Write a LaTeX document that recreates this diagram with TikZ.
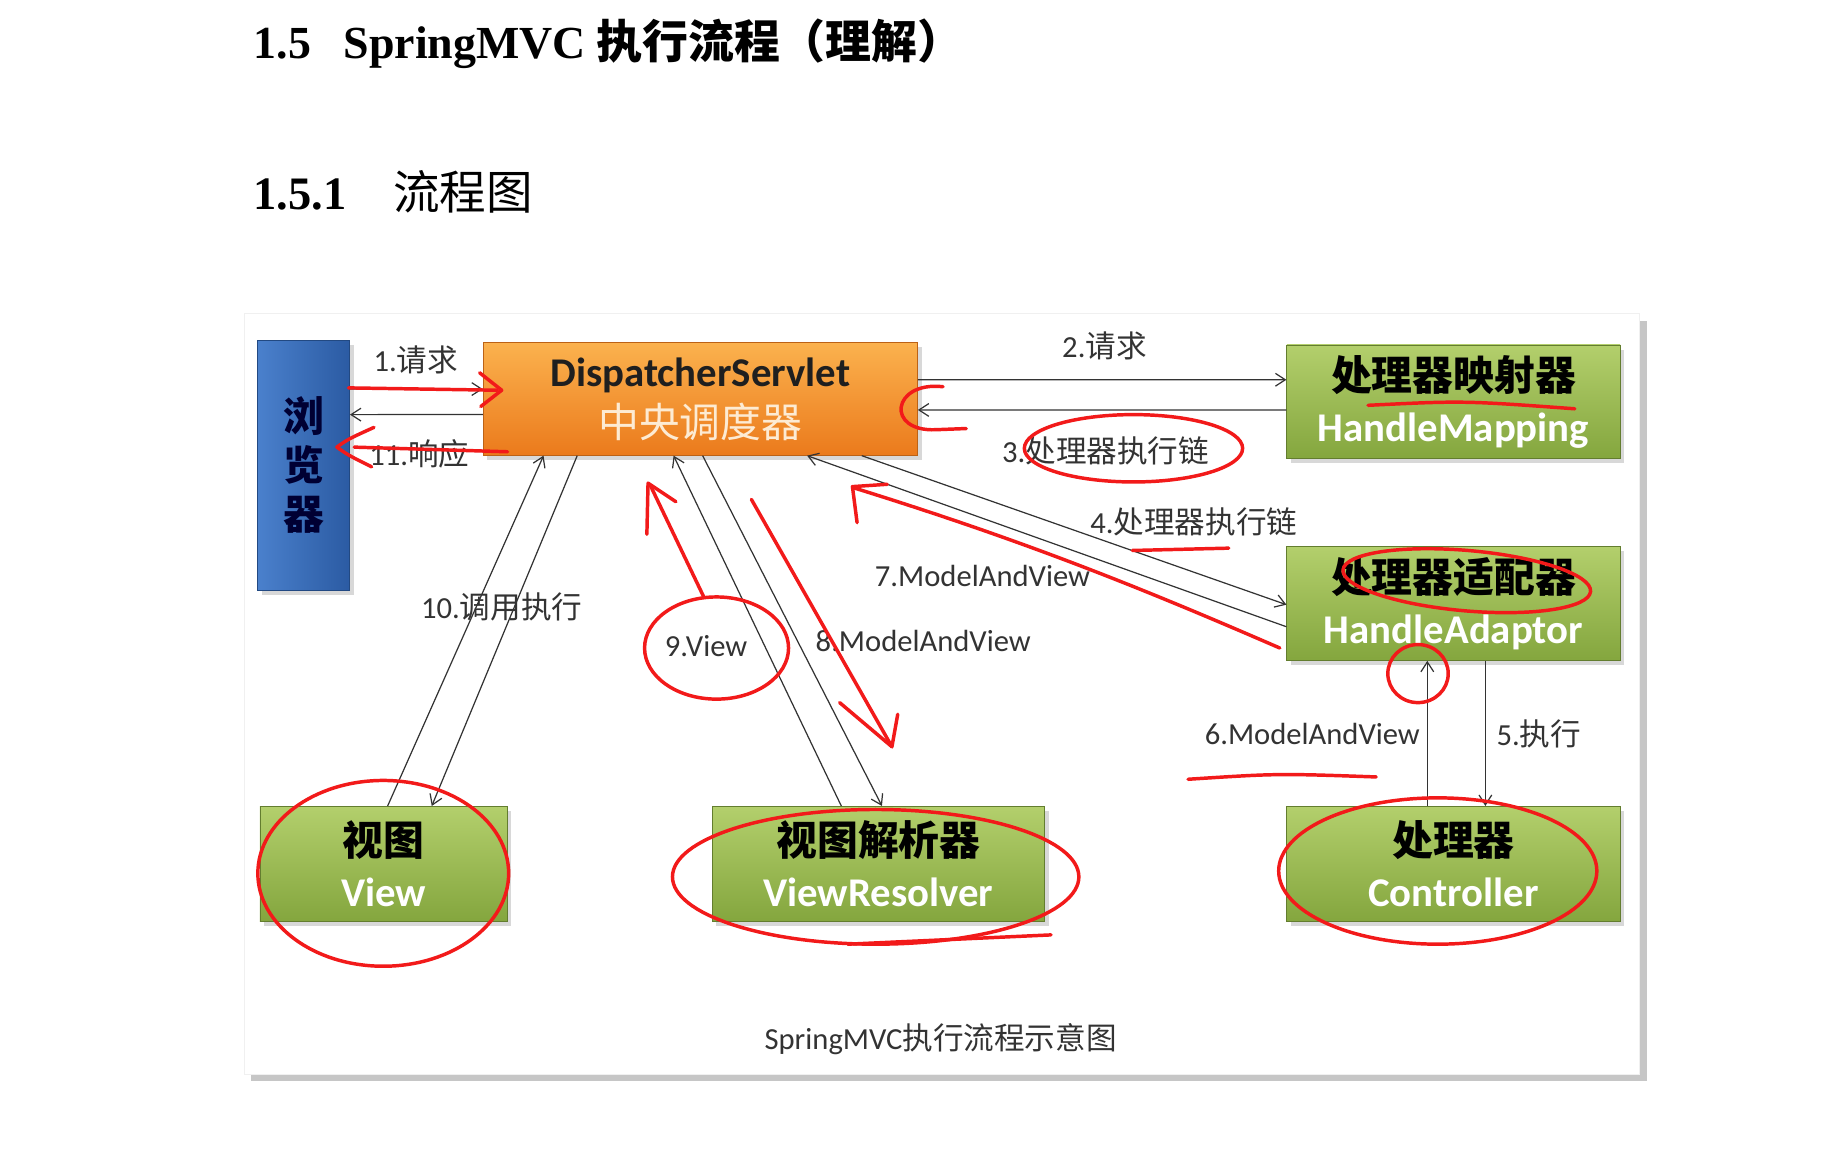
\documentclass[tikz,border=0pt]{standalone}
\usepackage{fontspec}
\setmainfont{Carlito}
\newfontfamily\zh{Noto Sans CJK SC}
\newfontfamily\headserif{Liberation Serif}
\usepackage{tikz}
\usetikzlibrary{arrows.meta, positioning, calc, shadows}
\definecolor{browserblue}{HTML}{4A80CC}
\definecolor{browserdeep}{HTML}{2B5BA3}
\definecolor{servlettop}{HTML}{FBB24E}
\definecolor{servletbot}{HTML}{EB7A1C}
\definecolor{servletlight}{HTML}{FDEBD3}
\definecolor{leaftop}{HTML}{B3CF6C}
\definecolor{leafbot}{HTML}{84A63E}
\definecolor{flowgray}{HTML}{333333}
\definecolor{penred}{HTML}{F21A1A}
\tikzset{
    box/.style={rectangle, minimum height=1.96cm, align=center, font=\fontsize{20}{25}\selectfont\bfseries, drop shadow={shadow xshift=.07cm, shadow yshift=-.08cm, opacity=.3}},
    greenbox/.style={box, draw=leafbot!75!black, top color=leaftop, bottom color=leafbot, text=black},
    orangebox/.style={box, draw=servletbot!80!black, top color=servlettop, bottom color=servletbot, text=black!88},
    bluebox/.style={box, draw=browserdeep!80!black, left color=browserblue, right color=browserdeep, text=black!80!blue},
    sheet/.style={rectangle, fill=white, draw=black!6, drop shadow={shadow xshift=.12cm, shadow yshift=-.12cm, opacity=.45}},
    flowlabel/.style={inner sep=0pt, font=\fontsize{15}{18}\selectfont, text=flowgray},
    arrow/.style={-{Straight Barb[length=1.7mm, width=2.2mm]}, line width=.6pt, draw=flowgray},
    redpen/.style={draw=penred, line width=1.7pt, line cap=round, line join=round}
}
\newcommand{\cn}[1]{{\zh #1}}

\begin{document}
\begin{tikzpicture}[x=0.02cm, y=-0.02cm]
\useasboundingbox (0,0) rectangle (1568,1000);
% headings
\node[anchor=west, inner sep=0pt] (head) at (218,38) {\fontsize{22.5}{26}\selectfont{\headserif\bfseries 1.5\hspace{16pt}SpringMVC} \cn{\bfseries 执行流程（理解）}};
\node[anchor=west, inner sep=0pt] (subhead) at (218,165) {\fontsize{22.8}{26}\selectfont{\headserif\bfseries 1.5.1}\hspace{1em}\cn{流程图}};
% the figure sheet
\node[sheet, minimum width=24.04cm, minimum height=13.1cm] (paper) at (811,597.5) {};

\node[bluebox, minimum width=1.58cm, minimum height=4.3cm, font=\fontsize{20}{24}\selectfont\bfseries\zh] (browser) at (261.5,400.5) {浏\\览\\器};
\node[orangebox, minimum width=7.48cm, minimum height=1.94cm] (disp) at (603,343.5) {DispatcherServlet\\\textcolor{servletlight}{\cn{\mdseries 中央调度器}}};
\node[greenbox, minimum width=5.74cm] (mapping) at (1251.5,346) {\cn{处理器映射器}\\\textcolor{white}{HandleMapping}};
\node[greenbox, minimum width=5.74cm, below=1.5cm of mapping] (adaptor) {\cn{处理器适配器}\\\textcolor{white}{HandleAdaptor}};
\node[greenbox, minimum width=5.74cm, minimum height=1.98cm, below=2.5cm of adaptor] (controller) {\cn{处理器}\\\textcolor{white}{Controller}};
\node[greenbox, minimum width=5.72cm, minimum height=1.98cm, left=4.16cm of controller] (resolver) {\cn{视图解析器}\\\textcolor{white}{ViewResolver}};
\node[greenbox, minimum width=4.26cm, minimum height=1.98cm, left=3.52cm of resolver] (view) {\cn{视图}\\\textcolor{white}{View}};

% flow
\draw[arrow] ([yshift=1.31cm]browser.east) -- ([yshift=.17cm]disp.west);
\draw[arrow] ([yshift=-.27cm]disp.west) -- ([yshift=.87cm]browser.east);
\draw[arrow] ([yshift=.33cm]disp.east) -- ([yshift=.38cm]mapping.west);
\draw[arrow] ([yshift=-.14cm]mapping.west) -- ([yshift=-.19cm]disp.east);
\draw[arrow] ([xshift=2.78cm]disp.south) -- ([yshift=-.02cm]adaptor.west);
\draw[arrow] ([yshift=-.40cm]adaptor.west) -- ([xshift=1.84cm]disp.south);
\draw[arrow] ([xshift=.55cm]adaptor.south) -- ([xshift=.55cm]controller.north);
\draw[arrow] ([xshift=-.45cm]controller.north) -- ([xshift=-.45cm]adaptor.south);
\draw[arrow] ([xshift=.04cm]disp.south) -- ([xshift=.06cm]resolver.north);
\draw[arrow] ([xshift=-.64cm]resolver.north) -- ([xshift=-.46cm]disp.south);
\draw[arrow] ([xshift=.07cm]view.north) -- ([xshift=-2.7cm]disp.south);
\draw[arrow] ([xshift=-2.12cm]disp.south) -- ([xshift=.83cm]view.north);

\node[flowlabel] (l1) at (358,310) {1.\cn{请求}};
\node[flowlabel] (l11) at (361,391) {11.\cn{响应}};
\node[flowlabel] (l2) at (951,298) {2.\cn{请求}};
\node[flowlabel] (l3) at (952,388) {3.\cn{处理器执行链}};
\node[flowlabel] (l4) at (1028,449) {4.\cn{处理器执行链}};
\node[flowlabel] (l7) at (846,496) {7.ModelAndView};
\node[flowlabel] (l8) at (795,552) {8.ModelAndView};
\node[flowlabel] (l9) at (608,556) {9.View};
\node[flowlabel] (l10) at (432,523) {10.\cn{调用执行}};
\node[flowlabel] (l6) at (1130,632) {6.ModelAndView};
\node[flowlabel] (l5) at (1325,632) {5.\cn{执行}};
\node[flowlabel] (caption) at (810,895) {SpringMVC\cn{执行流程示意图}};

% hand-drawn red marks
\draw[redpen] (300,334) -- (428,336);
\draw[redpen] (413,321) -- (432,336) -- (414,350);
\draw[redpen] (437,389) -- (305,385);
\draw[redpen] (322,368) .. controls (300,378) .. (290,385) .. controls (300,392) .. (320,402);
\draw[redpen] (812,333) .. controls (768,328) and (762,372) .. (806,370) -- (832,369);
\draw[redpen] (976,386) ellipse [x radius=1.88cm, y radius=.58cm];
\draw[redpen] (1178,349) .. controls (1260,345) .. (1356,352);
\draw[redpen] (975,474) -- (1058,472);
\draw[redpen, rotate around={-5:(1263,500)}] (1263,500) ellipse [x radius=2.14cm, y radius=.52cm];
\draw[redpen] (1102,558) .. controls (980,505) and (880,465) .. (735,420);
\draw[redpen] (764,417) -- (734,419) -- (738,450);
\draw[redpen] (606,514) -- (560,418);
\draw[redpen] (557,460) -- (558,416) -- (582,432);
\draw[redpen] (617,558) ellipse [x radius=1.24cm, y radius=.88cm];
\draw[redpen] (647,430) -- (768,643);
\draw[redpen] (723,605) -- (768,643) -- (773,615);
\draw[redpen] (1221,580) ellipse [x radius=.52cm, y radius=.5cm];
\draw[redpen] (1023,671) .. controls (1100,666) .. (1185,669);
\draw[redpen] (330,752) ellipse [x radius=2.16cm, y radius=1.6cm];
\draw[redpen] (754,755) ellipse [x radius=3.5cm, y radius=1.16cm];
\draw[redpen] (730,813) -- (905,805);
\draw[redpen] (1238,750) ellipse [x radius=2.74cm, y radius=1.26cm];
\end{tikzpicture}
\end{document}
